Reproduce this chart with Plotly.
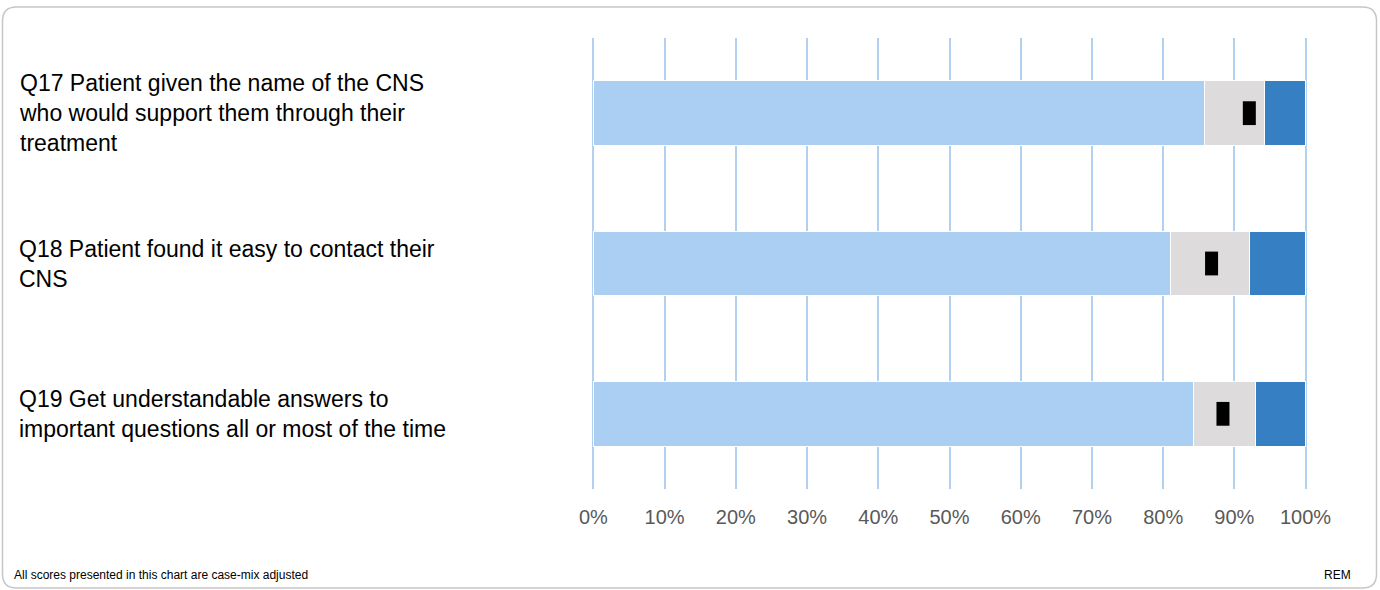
import plotly.graph_objects as go

# ---- data ----
categories = ["Q17", "Q18", "Q19"]
labels = [
    "Q17 Patient given the name of the CNS<br>who would support them through their<br>treatment",
    "Q18 Patient found it easy to contact their<br>CNS",
    "Q19 Get understandable answers to<br>important questions all or most of the time",
]
lower_band = [85.8, 81.1, 84.2]
middle_band = [8.4, 11.0, 8.7]
upper_band = [5.8, 7.9, 7.1]
trust_score = [92.1, 86.8, 88.4]
tick_vals = [0, 10, 20, 30, 40, 50, 60, 70, 80, 90, 100]
tick_text = ["0%", "10%", "20%", "30%", "40%", "50%", "60%", "70%", "80%", "90%", "100%"]

# ---- layout geometry (pixels) ----
W, H = 1380, 590
L, R, T, B = 592, 73, 38, 101
PW, PH = W - L - R, H - T - B

def px(x):
    return (x - L) / PW

def py(y):
    return (H - B - y) / PH

LIGHT = "#ABCFF2"
GREY = "#DDDBDB"
DARK = "#357FC2"
GRID = "#B2D1F0"
FONT = "Liberation Sans, Arial, sans-serif"

fig = go.Figure()
for vals, col in [(lower_band, LIGHT), (middle_band, GREY), (upper_band, DARK)]:
    fig.add_trace(go.Bar(
        x=vals, y=categories, orientation="h",
        marker=dict(color=col, line=dict(color="white", width=1)),
        width=0.43, hoverinfo="skip", showlegend=False,
    ))
fig.add_trace(go.Scatter(
    x=trust_score, y=categories, mode="markers",
    marker=dict(symbol="line-ns", size=17, color="black",
                line=dict(color="black", width=13)),
    hoverinfo="skip", showlegend=False,
))

# gaps in gridlines at category boundaries
shapes = []
for yb in [0.5, 1.5]:
    shapes.append(dict(type="line", xref="paper", yref="y", x0=-0.01, x1=1.01,
                       y0=yb, y1=yb, line=dict(color="white", width=4), layer="between"))

# outer rounded border
x0, x1, y0, y1, r = 2.5, 1376.5, 7, 588, 14
path = (f"M {px(x0+r)},{py(y0)} L {px(x1-r)},{py(y0)} "
        f"Q {px(x1)},{py(y0)} {px(x1)},{py(y0+r)} L {px(x1)},{py(y1-r)} "
        f"Q {px(x1)},{py(y1)} {px(x1-r)},{py(y1)} L {px(x0+r)},{py(y1)} "
        f"Q {px(x0)},{py(y1)} {px(x0)},{py(y1-r)} L {px(x0)},{py(y0+r)} "
        f"Q {px(x0)},{py(y0)} {px(x0+r)},{py(y0)} Z")
shapes.append(dict(type="path", xref="paper", yref="paper", path=path,
                   line=dict(color="#C6C6C6", width=1.5), layer="below"))

annotations = []
for cat, lab in zip(categories, labels):
    annotations.append(dict(x=px(17), xref="paper", y=cat, yref="y", text=lab,
                            xanchor="left", yanchor="middle", align="left",
                            showarrow=False, font=dict(family=FONT, size=23, color="black")))
annotations.append(dict(x=px(12), xref="paper", y=py(575), yref="paper",
                        text="All scores presented in this chart are case-mix adjusted",
                        xanchor="left", yanchor="middle", showarrow=False,
                        font=dict(family=FONT, size=12, color="black")))
annotations.append(dict(x=px(1353), xref="paper", y=py(575), yref="paper",
                        text="REM", xanchor="right", yanchor="middle", showarrow=False,
                        font=dict(family=FONT, size=12, color="black")))

fig.update_layout(
    width=W, height=H, barmode="stack", bargap=0.57,
    margin=dict(l=L, r=R, t=T, b=B, pad=0),
    paper_bgcolor="white", plot_bgcolor="white",
    xaxis=dict(range=[-0.2, 100.2], tickvals=tick_vals, ticktext=tick_text,
               showgrid=True, gridcolor=GRID, gridwidth=1.5, zeroline=False,
               showline=False, ticks="outside", ticklen=10, tickcolor="rgba(0,0,0,0)",
               tickfont=dict(family=FONT, size=20, color="#595959"), fixedrange=True),
    yaxis=dict(categoryorder="array", categoryarray=categories, autorange="reversed",
               showticklabels=False, showgrid=False, zeroline=False, showline=False,
               fixedrange=True),
    shapes=shapes, annotations=annotations,
)

fig.write_html("out.html", config={"displayModeBar": False},
               post_script="document.body.style.margin='0';")
